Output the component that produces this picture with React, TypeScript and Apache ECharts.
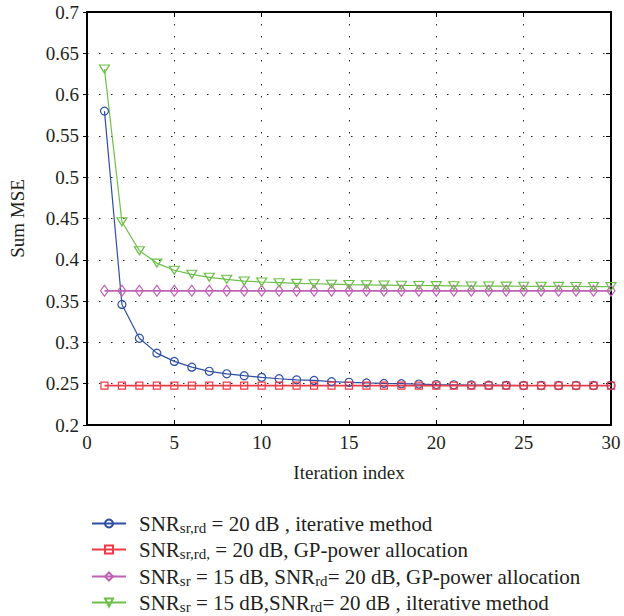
import React, { useEffect, useRef } from "react";
import * as echarts from "echarts";

const iterations = [1,2,3,4,5,6,7,8,9,10,11,12,13,14,15,16,17,18,19,20,21,22,23,24,25,26,27,28,29,30];
const blueIter = [0.580,0.346,0.305,0.287,0.277,0.270,0.265,0.262,0.2597,0.2577,0.256,0.2547,0.254,0.2525,0.2517,0.251,0.2504,0.250,0.2496,0.249,0.2487,0.2484,0.2482,0.248,0.2478,0.2478,0.2478,0.2478,0.2478,0.2478];
const redGP = [0.2477,0.2477,0.2477,0.2477,0.2477,0.2477,0.2477,0.2477,0.2477,0.2477,0.2477,0.2477,0.2477,0.2477,0.2477,0.2477,0.2477,0.2477,0.2477,0.2477,0.2477,0.2477,0.2477,0.2477,0.2477,0.2477,0.2477,0.2477,0.2477,0.2477];
const magentaGP = [0.3625,0.3625,0.3625,0.3625,0.3625,0.3625,0.3625,0.3625,0.3625,0.3625,0.3625,0.3625,0.3625,0.3625,0.3625,0.3625,0.3625,0.3625,0.3625,0.3625,0.3625,0.3625,0.3625,0.3625,0.3625,0.3625,0.3625,0.3625,0.3625,0.3625];
const greenIter = [0.631,0.446,0.411,0.396,0.3873,0.3824,0.3788,0.3764,0.3743,0.3731,0.3723,0.3715,0.371,0.3705,0.370,0.3697,0.3694,0.3691,0.3689,0.3687,0.3685,0.3683,0.3682,0.3681,0.368,0.3679,0.3678,0.3677,0.3676,0.3675];

const seriesNames = ["s1", "s2", "s3", "s4"];
const legendLabels = [
  "{t|SNR}{s|sr,rd}{t| = 20 dB , iterative method}",
  "{t|SNR}{s|sr,rd,}{t| = 20 dB, GP-power allocation}",
  "{t|SNR}{s|sr}{t| = 15 dB, SNR}{s|rd}{t|= 20 dB, GP-power allocation}",
  "{t|SNR}{s|sr}{t| = 15 dB,SNR}{s|rd}{t|= 20 dB , ilterative method}",
];

const FONT = "Liberation Serif";
const TXT = "#231f20";

export default function App() {
  const ref = useRef<HTMLDivElement>(null);
  useEffect(() => {
    if (!ref.current) return;
    document.body.style.margin = "0";
    const chart = echarts.init(ref.current, undefined, { renderer: "svg" });
    const pairs = (arr: number[]) => iterations.map((x, i) => [x, arr[i]]);
    const mk = (
      name: string,
      data: number[],
      color: string,
      symbol: string,
      symbolSize: any,
      width: number
    ) => ({
      name,
      type: "line",
      data: pairs(data),
      xAxisIndex: 0,
      yAxisIndex: 0,
      symbol,
      symbolSize,
      showSymbol: true,
      lineStyle: { color, width },
      itemStyle: { color: "rgba(255,255,255,0)", borderColor: color, borderWidth: 1.2 },
      emphasis: { disabled: true },
      z: 3,
    });
    const legendTops = [508, 534, 561, 587];
    const labelMap: Record<string, string> = {};
    seriesNames.forEach((n, i) => (labelMap[n] = legendLabels[i]));
    const legends = seriesNames.map((n, i) => ({
      data: [n],
      left: 86,
      top: legendTops[i],
      itemWidth: 34,
      itemHeight: 10,
      selectedMode: false,
      formatter: (name: string) => labelMap[name],
      textStyle: {
        fontFamily: FONT,
        fontSize: 21,
        color: TXT,
        padding: [0, 0, 0, 8],
        rich: {
          t: { fontSize: 21, fontFamily: FONT, color: TXT },
          s: { fontSize: 15, fontFamily: FONT, color: TXT, padding: [9, 0, 0, 0] },
        },
      },
    }));
    const lbl = { fontFamily: FONT, fontSize: 19, color: TXT, margin: 8 };
    chart.setOption({
      animation: false,
      backgroundColor: "#ffffff",
      textStyle: { fontFamily: FONT, color: TXT },
      grid: { left: 86, right: 13, top: 12, bottom: 191, containLabel: false },
      legend: legends,
      xAxis: [
        {
          type: "value",
          min: 0,
          max: 30,
          interval: 5,
          position: "bottom",
          name: "Iteration index",
          nameLocation: "middle",
          nameGap: 38,
          nameTextStyle: { fontFamily: FONT, fontSize: 19, color: TXT },
          axisLine: { show: true, onZero: false, lineStyle: { color: "#000", width: 2 } },
          axisTick: { show: true, inside: true, length: 5, lineStyle: { color: "#000", width: 1 } },
          axisLabel: { ...lbl, formatter: (v: number) => String(v) },
          splitLine: { show: true, lineStyle: { color: "#222", width: 1, type: [1.5, 10.5] } },
        },
        {
          type: "value",
          min: 0,
          max: 30,
          interval: 5,
          position: "top",
          axisLine: { show: true, onZero: false, lineStyle: { color: "#000", width: 2 } },
          axisTick: { show: true, inside: true, length: 5, lineStyle: { color: "#000", width: 1 } },
          axisLabel: { show: false },
          splitLine: { show: false },
        },
      ],
      yAxis: [
        {
          type: "value",
          min: 0.2,
          max: 0.7,
          interval: 0.05,
          position: "left",
          name: "Sum MSE",
          nameLocation: "middle",
          nameGap: 60,
          nameTextStyle: { fontFamily: FONT, fontSize: 19, color: TXT },
          axisLine: { show: true, onZero: false, lineStyle: { color: "#000", width: 2 } },
          axisTick: { show: true, inside: false, length: 4, lineStyle: { color: "#000", width: 1 } },
          axisLabel: {
            ...lbl,
            formatter: (v: number) => String(parseFloat(v.toFixed(2))),
          },
          splitLine: { show: true, lineStyle: { color: "#222", width: 1, type: [1.5, 10.5] } },
        },
        {
          type: "value",
          min: 0.2,
          max: 0.7,
          interval: 0.05,
          position: "right",
          axisLine: { show: true, onZero: false, lineStyle: { color: "#000", width: 2 } },
          axisTick: { show: true, inside: true, length: 5, lineStyle: { color: "#000", width: 1 } },
          axisLabel: { show: false },
          splitLine: { show: false },
        },
      ],
      series: [
        mk(seriesNames[0], blueIter, "#2f4fa6", "circle", 8, 1.2),
        mk(seriesNames[1], redGP, "#ee3b45", "rect", 7, 1.8),
        mk(seriesNames[2], magentaGP, "#c061b6", "diamond", [8, 11], 1.8),
        mk(seriesNames[3], greenIter, "#6cbf48", "path://M0,0L10,0L5,8.66Z", [10, 8], 1.2),
      ],
    });
    return () => chart.dispose();
  }, []);
  return <div ref={ref} style={{ width: 624, height: 616 }} />;
}
